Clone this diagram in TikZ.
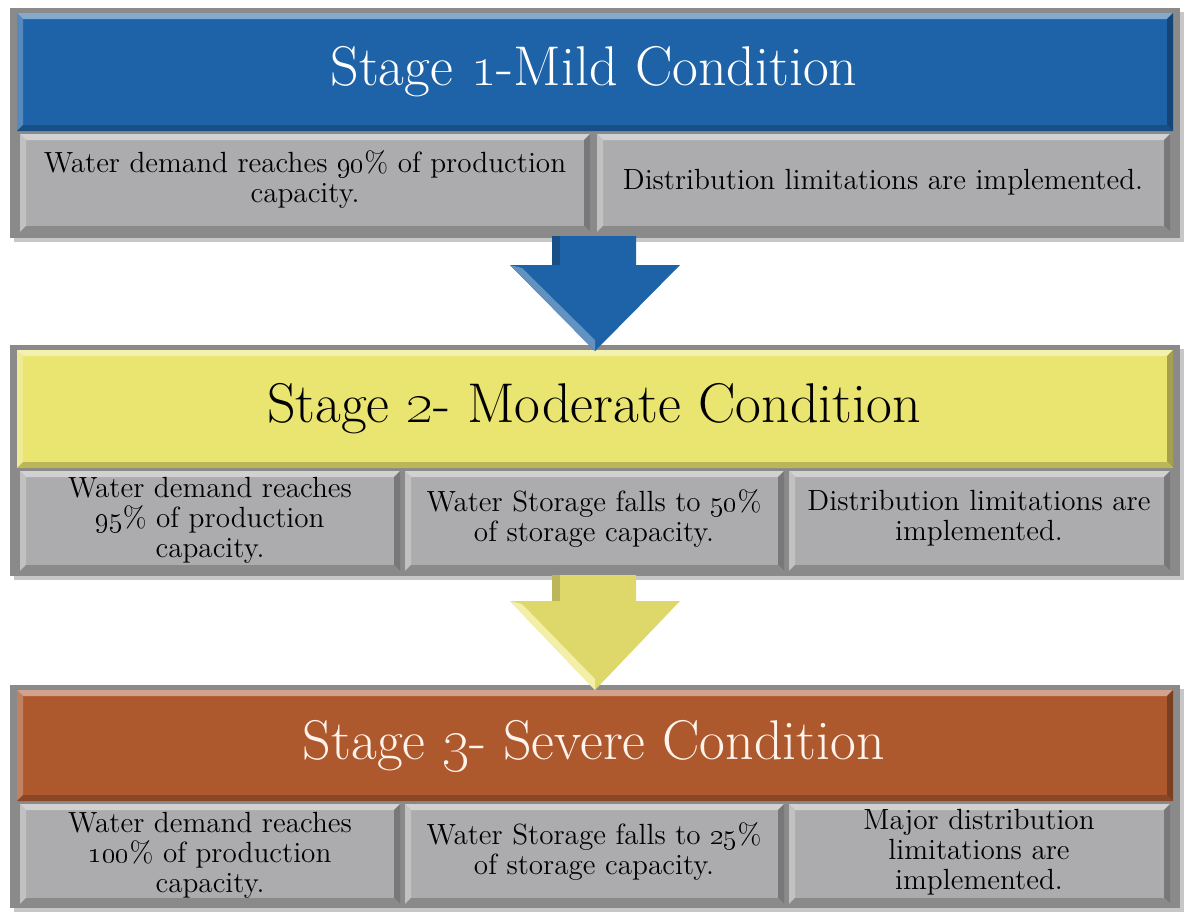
\documentclass[tikz,border=0pt]{standalone}
\definecolor{stageblue}{RGB}{30,99,168}
\definecolor{stageyellow}{RGB}{234,228,112}
\definecolor{stagebrown}{RGB}{174,88,46}
\definecolor{cellgray}{RGB}{172,172,174}
\definecolor{framegray}{RGB}{138,138,138}
\definecolor{cream}{RGB}{255,244,236}

\tikzset{
  titletext/.style={font=\fontsize{28}{32}\selectfont, inner sep=0pt},
  celltext/.style={font=\fontsize{14.6}{15}\selectfont, align=center, inner sep=0pt},
}

% bevelled box: x1, y1, x2, y2, colour
\newcommand{\bevelbox}[5]{%
  \fill[#5] (#1,#2) rectangle (#3,#4);
  \fill[#5!55!white] (#1,#2) -- (#3,#2) -- ({#3-6},{#2+6}) -- ({#1+6},{#2+6}) -- cycle;
  \fill[#5!75!white] (#1,#2) -- ({#1+6},{#2+6}) -- ({#1+6},{#4-6}) -- (#1,#4) -- cycle;
  \fill[#5!70!black] (#3,#2) -- (#3,#4) -- ({#3-6},{#4-6}) -- ({#3-6},{#2+6}) -- cycle;
  \fill[#5!80!black] (#1,#4) -- (#3,#4) -- ({#3-6},{#4-6}) -- ({#1+6},{#4-6}) -- cycle;
}
% frame with shadow: x1, y1, x2, y2
\newcommand{\stageframe}[4]{%
  \fill[black!22] ({#1+4},{#2+4}) rectangle ({#3+4},{#4+4});
  \fill[framegray] (#1,#2) rectangle (#3,#4);
}

\begin{document}
\begin{tikzpicture}[x=0.5pt,y=0.5pt,yscale=-1,xscale=1]
\useasboundingbox (0,0) rectangle (1186,911);

%Stage 1
\stageframe{10}{8}{1180}{238}
\bevelbox{17}{13}{1173}{131}{stageblue}
\bevelbox{20}{134}{590}{232}{cellgray}
\bevelbox{597}{134}{1170}{232}{cellgray}

%Stage 2
\stageframe{10}{345}{1180}{576}
\bevelbox{17}{350}{1173}{468}{stageyellow}
\bevelbox{20}{471}{400}{571}{cellgray}
\bevelbox{405}{471}{784}{571}{cellgray}
\bevelbox{789}{471}{1170}{571}{cellgray}

%Stage 3
\stageframe{10}{685}{1180}{908}
\bevelbox{17}{690}{1173}{801}{stagebrown}
\bevelbox{20}{804}{400}{904}{cellgray}
\bevelbox{405}{804}{784}{904}{cellgray}
\bevelbox{789}{804}{1170}{904}{cellgray}

%Block Arrows
\fill [stageblue] (552,236) -- (636,236) -- (636,265) -- (680,265) -- (595,351) -- (510,265) -- (552,265) -- cycle ;
\fill [stageblue!70!white] (510,265) -- (522,268) -- (595,340) -- (595,351) -- cycle ;
\fill [stageblue!80!black] (552,236) -- (560,236) -- (560,265) -- (552,265) -- cycle ;
\fill [stageyellow!95!black] (552,575) -- (636,575) -- (636,601) -- (680,601) -- (595,690) -- (510,601) -- (552,601) -- cycle ;
\fill [stageyellow!60!white] (510,601) -- (522,604) -- (595,679) -- (595,690) -- cycle ;
\fill [stageyellow!80!black] (552,575) -- (560,575) -- (560,601) -- (552,601) -- cycle ;

% Text Nodes
\node [titletext, text=white] (t1) at (594,72) {Stage \oldstylenums{1}-Mild Condition};
\node [titletext, text=black] (t2) at (594,409) {Stage \oldstylenums{2}- Moderate Condition};
\node [titletext, text=cream] (t3) at (594,746) {Stage \oldstylenums{3}- Severe Condition};

\node [celltext] (c11) at (305,180) {Water demand reaches \oldstylenums{90}\% of production\\capacity.};
\node [celltext] (c12) at (883,182) {Distribution limitations are implemented.};

\node [celltext] (c21) at (210,520) {Water demand reaches\\\oldstylenums{95}\% of production\\capacity.};
\node [celltext] (c22) at (594,519) {Water Storage falls to \oldstylenums{50}\%\\of storage capacity.};
\node [celltext] (c23) at (979,518) {Distribution limitations are\\implemented.};

\node [celltext] (c31) at (210,855) {Water demand reaches\\\oldstylenums{100}\% of production\\capacity.};
\node [celltext] (c32) at (594,852) {Water Storage falls to \oldstylenums{25}\%\\of storage capacity.};
\node [celltext] (c33) at (979,852) {Major distribution\\limitations are\\implemented.};

\end{tikzpicture}
\end{document}
